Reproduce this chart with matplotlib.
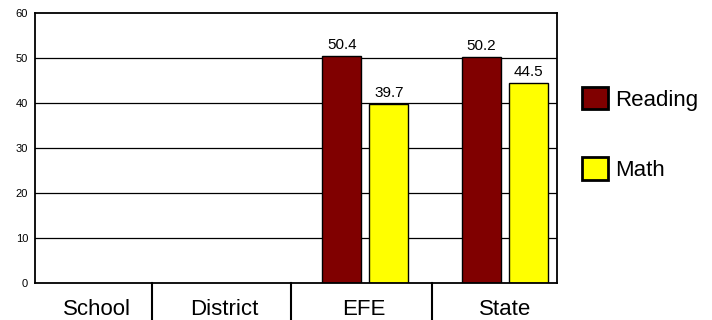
import numpy as np
import matplotlib.pyplot as plt
from matplotlib.patches import Patch

plt.rcParams['font.family'] = ['Liberation Sans', 'DejaVu Sans']

# data
categories = ['School', 'District', 'EFE', 'State']
reading = [np.nan, np.nan, 50.4, 50.2]
math = [np.nan, np.nan, 39.7, 44.5]
yticks = [0, 10, 20, 30, 40, 50, 60]

# layout (data units along x)
x = np.arange(len(categories))
bar_w = 0.279
offset = 0.168
label_x = [0.08, 0.99, 1.99, 3.0]
sep_x = [0.473, 1.468, 2.48]

fig = plt.figure(figsize=(7.12, 3.2), dpi=100)
ax = fig.add_axes([35/712, 37/320, 522/712, 270/320])

ax.set_xlim(-0.361, 3.371)
ax.set_ylim(0, 60)
ax.set_yticks(yticks)
ax.set_xticks([])
ax.tick_params(axis='y', length=0, pad=5, labelsize=8)
for y in yticks[1:-1]:
    ax.axhline(y, color='black', lw=0.9, zorder=1)
for s in ax.spines.values():
    s.set_color('black')
    s.set_linewidth(1.3)

b1 = ax.bar(x - offset, reading, bar_w, color='#800000', edgecolor='black', lw=1, zorder=2)
b2 = ax.bar(x + offset, math, bar_w, color='#ffff00', edgecolor='black', lw=1, zorder=2)
for bars, vals in [(b1, reading), (b2, math)]:
    labs = ['' if np.isnan(v) else f'{v:.1f}' for v in vals]
    ax.bar_label(bars, labels=labs, padding=3, fontsize=11)

# category "table" under the plot
tr = ax.get_xaxis_transform()
for lx, name in zip(label_x, categories):
    ax.text(lx, -0.097, name, transform=tr, ha='center', va='center', fontsize=16)
for sx in sep_x:
    ax.plot([sx, sx], [0, -0.15], transform=tr, color='black', lw=1.5, clip_on=False)

handles = [Patch(facecolor='#800000', edgecolor='black', lw=2, label='Reading'),
           Patch(facecolor='#ffff00', edgecolor='black', lw=2, label='Math')]
fig.legend(handles=handles, loc='upper left', bbox_to_anchor=(582/712, 1 - 87/320),
           frameon=False, fontsize=16, handlelength=1.17, handleheight=1.17,
           handletextpad=0.3, labelspacing=2.1, borderpad=0, borderaxespad=0)

fig.savefig('out.png', dpi=100)
